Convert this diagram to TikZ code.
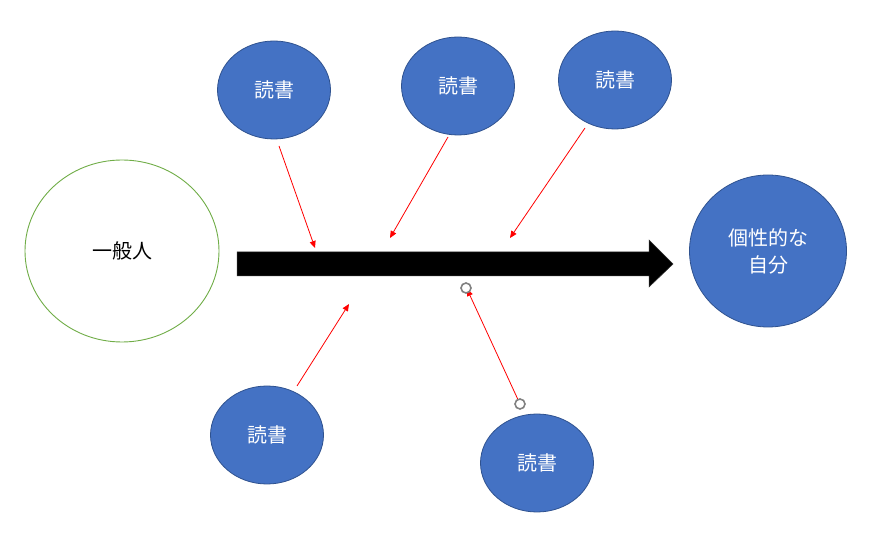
\documentclass[tikz,border=0pt]{standalone}
\usepackage{fontspec}
\newfontfamily\cjk{Noto Sans CJK JP}
\usetikzlibrary{arrows.meta,shapes.geometric}
\definecolor{bluefill}{HTML}{4472C4}
\definecolor{blueline}{HTML}{2F528F}
\definecolor{greenline}{HTML}{70AD47}
\begin{document}
\begin{tikzpicture}[x=1pt,y=-1pt,
  book/.style={ellipse,draw=blueline,line width=0.8pt,fill=bluefill,minimum width=113pt,minimum height=98pt,inner sep=0pt,text=white,font=\cjk\fontsize{20}{24}\selectfont},
  start/.style={ellipse,draw=greenline,line width=0.9pt,fill=white,minimum width=194pt,minimum height=182pt,inner sep=0pt,font=\cjk\fontsize{20}{24}\selectfont},
  goal/.style={ellipse,draw=blueline,line width=0.8pt,fill=bluefill,minimum width=157pt,minimum height=152pt,inner sep=0pt,text=white,align=center,font=\cjk\fontsize{20}{27}\selectfont},
  redarrow/.style={draw=red,line width=0.8pt,-{Triangle[length=7pt,width=6pt]}},
  handle/.style={circle,draw=gray,line width=1.6pt,fill=white,minimum size=10pt,inner sep=0pt}]
\useasboundingbox (0,0) rectangle (879,534);
% main nodes
\node[start] (ippan) at (122,251) {一般人};
\node[goal] (jibun) at (768,251) {個性的な\\自分};
\node[book] (b1) at (274,90) {読書};
\node[book] (b2) at (458,86) {読書};
\node[book] (b3) at (615,80) {読書};
\node[book] (b4) at (267,435) {読書};
\node[book] (b5) at (537,463) {読書};
% big arrow
\coordinate (aL) at (237,264);
\coordinate (aT) at (673,264);
\fill[black,draw=black!80,line width=0.5pt] (237,252) -- (649,252) -- (649,240) -- (aT) -- (649,287) -- (649,276) -- (237,276) -- cycle;
% red arrows
\coordinate (s1) at (279,146); \coordinate (e1) at (315,248);
\coordinate (s2) at (448,137); \coordinate (e2) at (390,238);
\coordinate (s3) at (585,128); \coordinate (e3) at (510,238);
\coordinate (s4) at (297,386); \coordinate (e4) at (349,304);
\coordinate (s5) at (520,404); \coordinate (e5) at (467,289);
\draw[redarrow] (s1) -- (e1);
\draw[redarrow] (s2) -- (e2);
\draw[redarrow] (s3) -- (e3);
\draw[redarrow] (s4) -- (e4);
\draw[redarrow] (s5) -- (e5);
\node[handle] (h5a) at (s5) {};
\node[handle] (h5b) at (466,288) {};
\end{tikzpicture}
\end{document}
